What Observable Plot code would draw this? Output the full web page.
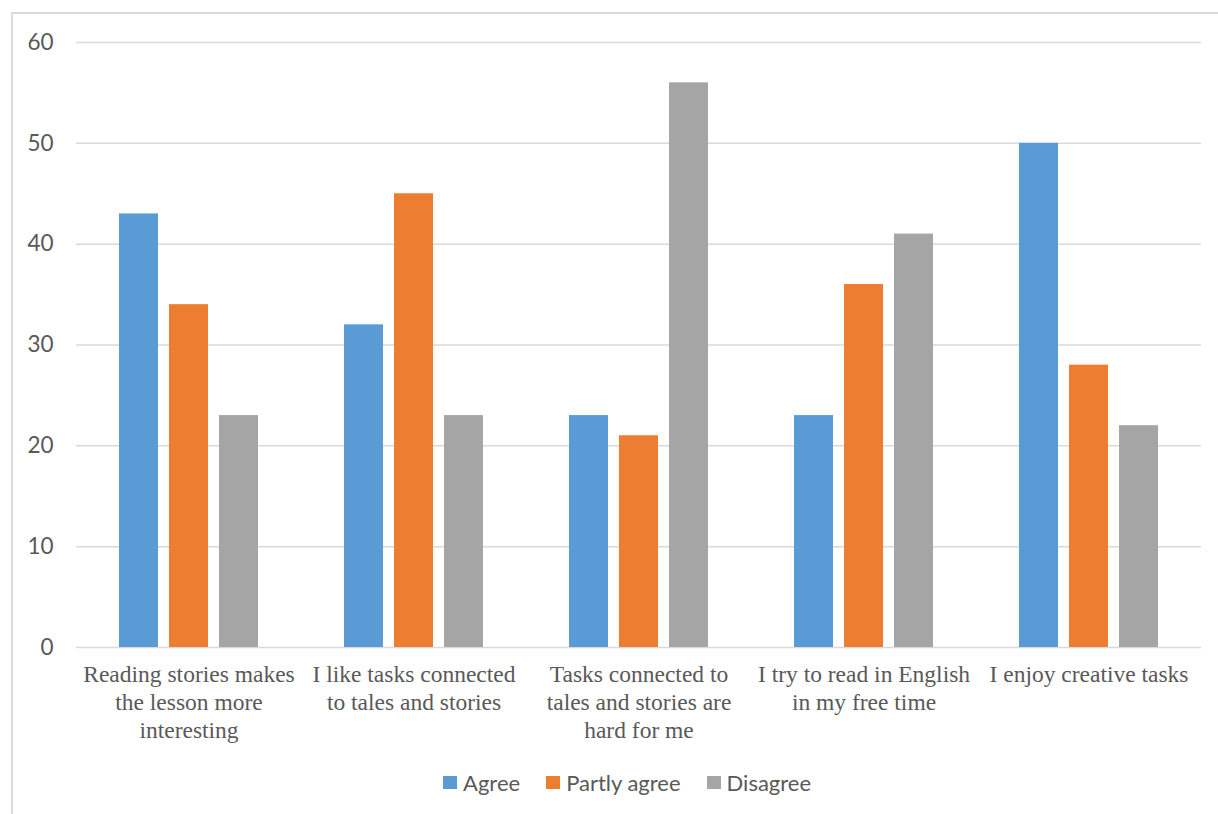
<!DOCTYPE html>
<html>
<head>
<meta charset="utf-8">
<script src="https://cdn.jsdelivr.net/npm/d3@7"></script>
<script src="https://cdn.jsdelivr.net/npm/@observablehq/plot@0.6"></script>
<style>
  html, body { margin: 0; padding: 0; background: #fff; }
  #wrap { position: relative; width: 1218px; height: 814px; overflow: hidden; }
  #frame {
    position: absolute; left: 11px; top: 12px; width: 1400px; height: 1000px;
    border-top: 2px solid #dadada; border-left: 2px solid #dadada;
  }
  #chart { position: absolute; left: 0; top: 0; }
  #legend {
    position: absolute; left: 443px; top: 769px;
    display: flex; align-items: center; gap: 26px;
    font-family: Lato, "Open Sans", sans-serif; font-size: 22px; color: #595959;
  }
  #legend .item { display: flex; align-items: center; gap: 6px; }
  #legend .sw { width: 14px; height: 13px; display: inline-block; }
</style>
</head>
<body>
<div id="wrap">
  <div id="frame"></div>
  <div id="chart"></div>
  <div id="legend"></div>
</div>
<script>
// Survey statements (axis labels, wrapped as shown under each group)
const categories = [
  "Reading stories makes\nthe lesson more\ninteresting",
  "I like tasks connected\nto tales and stories",
  "Tasks connected to\ntales and stories are\nhard for me",
  "I try to read in English\nin my free time",
  "I enjoy creative tasks"
];
const series = ["Agree", "Partly agree", "Disagree"];
const colors = ["#5b9bd5", "#ed7d31", "#a5a5a5"];

// Responses per statement
const agree = [43, 32, 23, 23, 50];
const partlyAgree = [34, 45, 21, 36, 28];
const disagree = [23, 23, 56, 41, 22];

const yTicks = [0, 10, 20, 30, 40, 50, 60];

const columns = [agree, partlyAgree, disagree];
const data = categories.flatMap((category, i) =>
  series.map((s, j) => ({category, series: s, value: columns[j][i]}))
);

const chart = Plot.plot({
  width: 1218,
  height: 750,
  marginLeft: 75,
  marginRight: 17,
  marginTop: 42,
  marginBottom: 103,
  style: {background: "transparent", overflow: "visible"},
  fx: {domain: categories, padding: 0, label: null},
  x: {domain: series, paddingInner: 0.22, paddingOuter: 0.86, axis: null},
  y: {domain: [0, 60], label: null},
  color: {domain: series, range: colors},
  marks: [
    Plot.gridY(yTicks, {stroke: "#d9d9d9", strokeOpacity: 1, strokeWidth: 1.5}),
    Plot.barY(data, {fx: "category", x: "series", y: "value", fill: "series"}),
    Plot.axisY(yTicks, {
      tickSize: 0, tickPadding: 23, label: null,
      fontSize: 22.5, fontFamily: "Lato, 'Open Sans', sans-serif", fill: "#595959"
    }),
    Plot.axisFx({
      anchor: "bottom", tickSize: 0, tickPadding: 15, label: null,
      lineHeight: 1.19, textOverflow: null,
      fontSize: 23.5, fontFamily: "'Liberation Serif', 'Times New Roman', serif", fill: "#595959"
    })
  ]
});
document.getElementById("chart").appendChild(chart);

// Legend row
const legend = document.getElementById("legend");
series.forEach((s, i) => {
  const item = document.createElement("span");
  item.className = "item";
  const sw = document.createElement("span");
  sw.className = "sw";
  sw.style.background = colors[i];
  const label = document.createElement("span");
  label.textContent = s;
  item.append(sw, label);
  legend.appendChild(item);
});
</script>
</body>
</html>
